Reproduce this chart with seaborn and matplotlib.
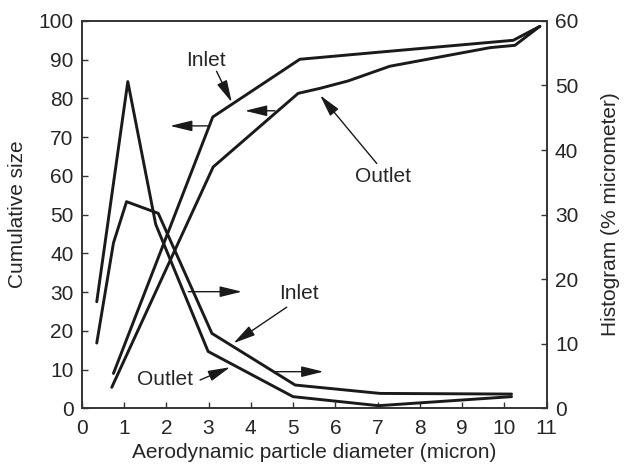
import pandas as pd
import matplotlib
matplotlib.use("Agg")
import matplotlib.pyplot as plt
import seaborn as sns

# cumulative size curves (left axis)
cum_inlet_x = [0.75, 3.10, 5.16, 7.0, 10.21, 10.84]
cum_inlet_y = [9.0, 75.2, 90.1, 91.9, 95.0, 98.6]
cum_outlet_x = [0.71, 3.11, 5.12, 5.64, 6.3, 7.29, 9.66, 10.25, 10.84]
cum_outlet_y = [5.4, 62.3, 81.3, 82.6, 84.5, 88.3, 93.1, 93.7, 98.6]

# histogram curves (right axis, % per micrometer)
hist_inlet_x = [0.355, 0.75, 1.06, 1.81, 3.08, 5.05, 7.06, 10.17]
hist_inlet_y = [10.1, 25.6, 32.0, 30.2, 11.6, 3.6, 2.3, 2.2]
hist_outlet_x = [0.355, 1.09, 1.75, 2.99, 5.0, 7.02, 10.17]
hist_outlet_y = [16.5, 50.6, 28.5, 8.8, 1.8, 0.4, 1.8]

sns.set_style("ticks")
plt.rcParams['font.family'] = ['Liberation Sans', 'DejaVu Sans']
plt.rcParams['font.size'] = 15

line_color = '#1a1a1a'
lw = 2.1
fs = 15

fig = plt.figure(figsize=(6.24, 4.65), dpi=100)
ax = fig.add_axes([0.131, 0.122, 0.745, 0.833])
ax2 = ax.twinx()

cum_in = pd.DataFrame({'x': cum_inlet_x, 'y': cum_inlet_y})
cum_out = pd.DataFrame({'x': cum_outlet_x, 'y': cum_outlet_y})
hist_in = pd.DataFrame({'x': hist_inlet_x, 'y': hist_inlet_y})
hist_out = pd.DataFrame({'x': hist_outlet_x, 'y': hist_outlet_y})

sns.lineplot(data=cum_in, x='x', y='y', ax=ax, color=line_color, lw=lw)
sns.lineplot(data=cum_out, x='x', y='y', ax=ax, color=line_color, lw=lw)
sns.lineplot(data=hist_in, x='x', y='y', ax=ax2, color=line_color, lw=lw)
sns.lineplot(data=hist_out, x='x', y='y', ax=ax2, color=line_color, lw=lw)

ax.set_xlim(0, 11)
ax.set_ylim(0, 100)
ax2.set_ylim(0, 60)
ax.set_xticks(range(0, 12))
ax.set_yticks(range(0, 101, 10))
ax2.set_yticks(range(0, 61, 10))

ax.set_xlabel('Aerodynamic particle diameter (micron)', fontsize=fs, labelpad=3)
ax.set_ylabel('Cumulative size', fontsize=fs, labelpad=8)
ax2.set_ylabel('Histogram (% micrometer)', fontsize=fs, labelpad=16)

for a in (ax, ax2):
    a.tick_params(direction='in', length=4, width=1, labelsize=fs, color='#333333')
    for s in a.spines.values():
        s.set_linewidth(1.2)
        s.set_color('#333333')
    a.spines['top'].set_visible(True)
    a.spines['right'].set_visible(True)
ax.tick_params(axis='y', right=False, pad=6)
ax.tick_params(axis='x', pad=8)
ax2.tick_params(axis='y', left=False, pad=6)

arrow = dict(arrowstyle='-|>,head_length=0.9,head_width=0.22', color=line_color,
             lw=1.0, shrinkA=0, shrinkB=0)

# Inlet label (cumulative)
ax.text(2.94, 89.7, 'Inlet', ha='center', va='center', fontsize=fs)
ax.annotate('', xy=(3.55, 79.0), xytext=(3.19, 87.0), arrowprops=arrow)
# left arrows from cumulative curves
ax.annotate('', xy=(2.09, 72.9), xytext=(2.99, 72.9), arrowprops=arrow)
ax.annotate('', xy=(3.86, 76.8), xytext=(4.57, 76.8), arrowprops=arrow)
# Outlet label (cumulative)
ax.text(7.13, 59.9, 'Outlet', ha='center', va='center', fontsize=fs)
ax.annotate('', xy=(5.64, 80.8), xytext=(6.98, 63.2), arrowprops=arrow)

# right arrows from histogram curves
ax.annotate('', xy=(3.79, 30.1), xytext=(2.52, 30.1), arrowprops=arrow)
ax.annotate('', xy=(5.72, 9.45), xytext=(4.53, 9.45), arrowprops=arrow)
# Inlet label (histogram)
ax.text(5.13, 29.7, 'Inlet', ha='center', va='center', fontsize=fs)
ax.annotate('', xy=(3.59, 16.8), xytext=(4.85, 26.1), arrowprops=arrow)
# Outlet label (histogram)
ax.text(1.97, 7.3, 'Outlet', ha='center', va='center', fontsize=fs)
ax.annotate('', xy=(3.51, 10.6), xytext=(2.80, 7.3), arrowprops=arrow)

plt.savefig('out.png', dpi=100)
